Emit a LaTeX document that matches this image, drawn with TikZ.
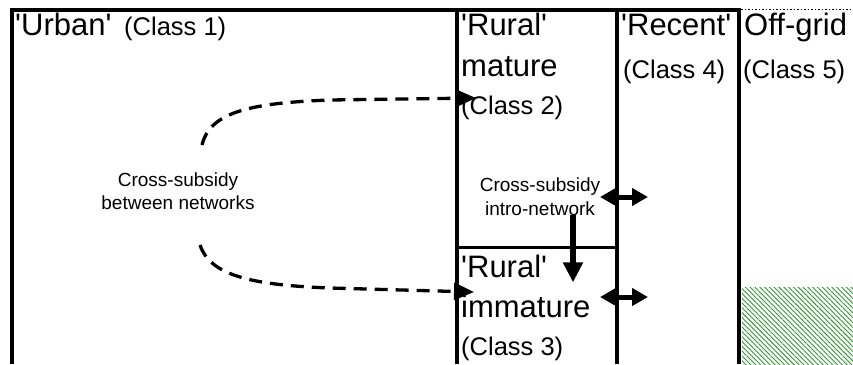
\documentclass[tikz,border=0pt]{standalone}
\usepackage{fontspec}
\setmainfont{Liberation Sans}
\usetikzlibrary{positioning, arrows.meta, patterns.meta}

\newcommand{\sq}{\textquotesingle}

\begin{document}
\begin{tikzpicture}[x=1pt, y=-1pt,
        wall/.style={line width=3.5pt},
        big/.style={inner sep=0pt, anchor=base west, font=\fontsize{31}{37}\selectfont},
        small/.style={inner sep=0pt, anchor=base west, font=\fontsize{25.5}{30}\selectfont},
        note/.style={inner sep=0pt, anchor=base, font=\fontsize{19}{23}\selectfont},
        flow/.style={line width=3.3pt, dash pattern=on 13pt off 8pt, -{Triangle[length=20pt, width=17pt]}},
        swap/.style={line width=5pt, {Triangle[length=16pt, width=17pt]}-{Triangle[length=16pt, width=17pt]}},
        push/.style={line width=6pt, -{Triangle[length=20pt, width=19pt]}}]
        \useasboundingbox (0,0) rectangle (853,364);
        \coordinate (A1) at (12,364);
        \coordinate (A2) at (12,10);
        \coordinate (B1) at (457,10);
        \coordinate (B2) at (457,364);
        \coordinate (C1) at (617,10);
        \coordinate (C2) at (617,364);
        \coordinate (D1) at (739,10);
        \coordinate (D2) at (739,364);
        \coordinate (M1) at (457,247.5);
        \coordinate (M2) at (617,247.5);
        % class borders
        \draw[wall] (A1) -- (A2) -- (D1) -- (D2);
        \draw[wall] (B1) -- (B2);
        \draw[wall] (C1) -- (C2);
        \draw[wall] (M1) -- (M2);
        \draw[line width=1.5pt, dotted] (741,9.5) -- (853,9.5);
        \fill[pattern={Lines[angle=-45, distance=3.4pt, line width=0.9pt]}, pattern color={rgb,255:red,50;green,150;blue,50}] (742,287) rectangle (853,364);
        % labels
        \node[big] (urban) at (15,35) {\sq Urban\sq};
        \node[small] (class1) at (124,35) {(Class 1)};
        \node[big] (ruralA) at (461,35) {\sq Rural\sq};
        \node[big] (matureA) at (461,76) {mature};
        \node[small] (class2) at (461,114) {(Class 2)};
        \node[big] (recent) at (621,35) {\sq Recent\sq};
        \node[small] (class4) at (623,78) {(Class 4)};
        \node[big] (offgrid) at (744,35) {Off-grid};
        \node[small] (class5) at (743,78) {(Class 5)};
        \node[big] (ruralB) at (461,277) {\sq Rural\sq};
        \node[big] (immature) at (461,317) {immature};
        \node[small] (class3) at (461,355) {(Class 3)};
        \node[note] (between1) at (178,186) {Cross-subsidy};
        \node[note] (between2) at (178,209) {between networks};
        \node[note] (intra1) at (540,191) {Cross-subsidy};
        \node[note] (intra2) at (540,215) {intro-network};
        % cross-subsidies
        \coordinate (upstart) at (202,145);
        \coordinate (uptip) at (476,98);
        \coordinate (downstart) at (200,245);
        \coordinate (downtip) at (474,292);
        \draw[flow] (upstart) .. controls (210,112) and (250,103) .. (330,100) -- (uptip);
        \draw[flow] (downstart) .. controls (210,275) and (250,285) .. (330,288) -- (downtip);
        \draw[push] ([xshift=33pt]intra2.south) -- ++(0,67);
        \draw[swap] (600,197) -- (648,197);
        \draw[swap] (600,297) -- (648,297);
    \end{tikzpicture}
\end{document}
